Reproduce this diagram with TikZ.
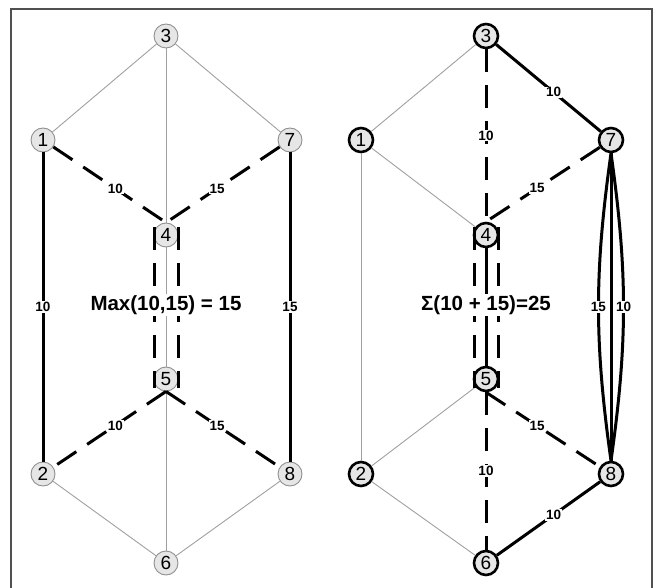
\documentclass[tikz,border=0pt]{standalone}
\usepackage{fontspec}
\setmainfont{Liberation Sans}
\usepackage{tikz}
\usetikzlibrary{positioning}
\definecolor{vfill}{HTML}{E6E6E6}
\definecolor{lgray}{HTML}{A0A0A0}
\definecolor{framegray}{HTML}{505050}
\tikzstyle{vtx} = [circle, draw=lgray!90!black, fill=vfill, line width=0.9pt,
    minimum size=24pt, inner sep=0pt, font=\fontsize{19}{19}\selectfont]
\tikzstyle{vtxb} = [vtx, draw=black, line width=2.6pt]
\tikzstyle{light} = [draw=lgray, line width=0.9pt]
\tikzstyle{heavy} = [draw=black, line width=3pt]
\tikzstyle{heavydash} = [heavy, dash pattern=on 23pt off 13pt]
\tikzstyle{wlabel} = [fill=white, inner sep=1pt, font=\bfseries\fontsize{13.5}{13.5}\selectfont]
\tikzstyle{caption} = [fill=white, inner sep=1pt, font=\bfseries\fontsize{20.5}{20.5}\selectfont]

\begin{document}
\begin{tikzpicture}[x=1pt, y=-1pt]
    \useasboundingbox (0,0) rectangle (653,588);
    \draw [framegray, line width=1.5pt] (11,588) -- (11,9) -- (652,9) -- (652,588);

    % left graph: max
    \node (L3) [vtx] at (166,36) {3};
    \node (L1) [vtx] at (43,140) {1};
    \node (L7) [vtx, right of=L1, node distance=247pt] {7};
    \node (L4) [vtx] at (166,235) {4};
    \node (L5) [vtx, below of=L4, node distance=144pt] {5};
    \node (L2) [vtx] at (43,474) {2};
    \node (L8) [vtx, right of=L2, node distance=247pt] {8};
    \node (L6) [vtx] at (166,563) {6};

    \draw [light] (L3) -- (L1);
    \draw [light] (L3) -- (L7);
    \draw [light] (L3) -- (L4);
    \draw [light] (L4) -- (L5);
    \draw [light] (L5) -- (L6);
    \draw [light] (L2) -- (L6);
    \draw [light] (L8) -- (L6);
    \draw [heavydash] (L1) -- node [wlabel, pos=0.55] {10} (L4.north);
    \draw [heavydash] (L7) -- node [wlabel, pos=0.55] {15} (L4.north);
    \draw [heavy] (L1) -- node [wlabel] {10} (L2);
    \draw [heavy] (L7) -- node [wlabel] {15} (L8);
    \draw [heavydash] (L5.south) -- node [wlabel, pos=0.45] {10} (L2);
    \draw [heavydash] (L5.south) -- node [wlabel, pos=0.45] {15} (L8);
    \draw [heavydash] ([shift={(-11.5,-8)}]L4.center) -- ([shift={(-11.5,9)}]L5.center);
    \draw [heavydash] ([shift={(12,-8)}]L4.center) -- ([shift={(12,9)}]L5.center);
    \node (maxtext) [caption] at (166,305) {Max(10,15) = 15};

    % right graph: sum
    \node (R3) [vtxb, right of=L3, node distance=320pt] {3};
    \node (R1) [vtxb, right of=L1, node distance=318pt] {1};
    \node (R7) [vtxb, right of=L7, node distance=321pt] {7};
    \node (R4) [vtxb, right of=L4, node distance=320pt] {4};
    \node (R5) [vtxb, right of=L5, node distance=320pt] {5};
    \node (R2) [vtxb, right of=L2, node distance=318pt] {2};
    \node (R8) [vtxb, right of=L8, node distance=321pt] {8};
    \node (R6) [vtxb, right of=L6, node distance=320pt] {6};

    \draw [light] (R3) -- (R1);
    \draw [light] (R1) -- (R4);
    \draw [light] (R1) -- (R2);
    \draw [light] (R5) -- (R2);
    \draw [light] (R2) -- (R6);
    \draw [heavy] (R3) -- node [wlabel, pos=0.55] {10} (R7);
    \draw [heavydash] (R3.south) -- node [wlabel] {10} (R4.north);
    \draw [heavydash] (R7) -- node [wlabel, pos=0.55] {15} (R4.north);
    \draw [heavy] (R4) -- (R5);
    \draw [heavydash] ([shift={(-11.5,-8)}]R4.center) -- ([shift={(-11.5,9)}]R5.center);
    \draw [heavydash] ([shift={(12,-8)}]R4.center) -- ([shift={(12,9)}]R5.center);
    \draw [heavydash] (R5.south) -- node [wlabel, pos=0.45] {15} (R8);
    \draw [heavydash] (R5.south) -- node [wlabel] {10} (R6.north);
    \draw [heavy] (R6) -- node [wlabel, pos=0.55] {10} (R8);
    \draw [heavy] (R7.south) to [bend right=8] node [wlabel] {15} (R8.north);
    \draw [heavy] (R7.south) -- (R8.north);
    \draw [heavy] (R7.south) to [bend left=8] node [wlabel] {10} (R8.north);
    \node (sumtext) [caption] at (486,305) {Σ(10 + 15)=25};
\end{tikzpicture}
\end{document}
